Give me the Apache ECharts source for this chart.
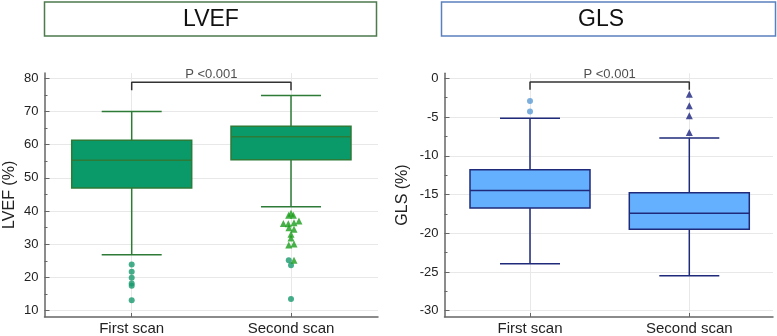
<!DOCTYPE html>
<html>
<head>
<meta charset="utf-8">
<title>LVEF and GLS</title>
<script src="https://cdn.jsdelivr.net/npm/echarts@6/dist/echarts.min.js"></script>
<style>
    html, body {margin: 0; padding: 0; background: #fff;}
    #main {width: 777px; height: 336px;}
</style>
</head>
<body>
<div id="main"></div>
<script>
    'use strict';

    var scans = ['First scan', 'Second scan'];

    // min, Q1, median, Q3, max  (one row per scan)
    var lvefBoxes = [
        [26.0, 46.4, 54.9, 61.0, 69.8],
        [40.7, 55.1, 62.1, 65.3, 74.7]
    ];
    var glsBoxes = [
        [-24.3, -17.0, -14.7, -12.0, -5.25],
        [-25.9, -19.8, -17.7, -15.0, -7.84]
    ];

    // outliers: [scan index + small jitter, value]
    var lvefFarOut = [
        [0, 23.0], [0, 20.8], [0, 19.0], [0, 17.2], [0, 16.5], [0, 12.1],
        [0.986, 24.3], [1, 22.8], [1, 12.5]
    ];
    var lvefOut = [
        [1, 38.7], [0.985, 38.1], [1.015, 38.1], [0.952, 35.6], [0.983, 35.5],
        [1.019, 35.8], [1.05, 36.3], [0.987, 34.3], [1.019, 33.8], [1, 32.3],
        [1, 31.1], [0.986, 29.0], [1.019, 29.3], [1.019, 24.3]
    ];
    var glsFarOut = [[0, -2.97], [0, -4.35]];
    var glsOut = [[1, -2.1], [1, -3.6], [1, -4.9], [1, -7.1]];

    var lvefTicks = [10, 20, 30, 40, 50, 60, 70, 80];
    var lvefMinor = [15, 25, 35, 45, 55, 65, 75];
    var glsTicks = [-30, -25, -20, -15, -10, -5, 0];
    var glsMinor = [-27.5, -22.5, -17.5, -12.5, -7.5, -2.5];

    // significance bracket: [foot, top, text]
    var lvefBracket = [76.3, 78.8, 81.3];
    var glsBracket = [-1.5, -0.48, 0.55];
    var pText = 'P <0.001';

    var FONT = "'Liberation Sans', Arial, sans-serif";
    var BOX_W = 120, CAP_W = 60;
    var AXIS_C = '#666', GRID_C = '#e8e8e8';

    var grids = [], xAxes = [], yAxes = [], series = [];

    function lineStyle(c) {
        return {stroke: c, lineWidth: 1.5, fill: null};
    }

    function boxRenderer(fill, stroke) {
        return function (params, api) {
            var i = api.value(0);
            var lo = api.coord([i, api.value(1)]);
            var q1 = api.coord([i, api.value(2)]);
            var md = api.coord([i, api.value(3)]);
            var q3 = api.coord([i, api.value(4)]);
            var hi = api.coord([i, api.value(5)]);
            var x = lo[0], hb = BOX_W / 2, hc = CAP_W / 2;
            return {
                type: 'group',
                children: [
                    {type: 'line', shape: {x1: x, y1: hi[1], x2: x, y2: q3[1]}, style: lineStyle(stroke)},
                    {type: 'line', shape: {x1: x, y1: q1[1], x2: x, y2: lo[1]}, style: lineStyle(stroke)},
                    {type: 'line', shape: {x1: x - hc, y1: hi[1], x2: x + hc, y2: hi[1]}, style: lineStyle(stroke)},
                    {type: 'line', shape: {x1: x - hc, y1: lo[1], x2: x + hc, y2: lo[1]}, style: lineStyle(stroke)},
                    {type: 'rect', shape: {x: x - hb, y: q3[1], width: BOX_W, height: q1[1] - q3[1]},
                        style: {fill: fill, stroke: stroke, lineWidth: 1.5}},
                    {type: 'line', shape: {x1: x - hb, y1: md[1], x2: x + hb, y2: md[1]}, style: lineStyle(stroke)}
                ]
            };
        };
    }

    // p = {frame, data, min, max, ticks, minor, name, nameGap, boxes, farOut, out, bracket, colors}
    function addPanel(p) {
        var gf = grids.length;
        grids.push(p.frame);
        grids.push(p.data);
        var gd = gf + 1;

        // frame: axis lines, y labels, horizontal grid
        xAxes.push({
            type: 'value', gridIndex: gf, min: 0, max: 1,
            axisLine: {show: true, onZero: false, lineStyle: {color: AXIS_C, width: 1.5}},
            axisTick: {show: false}, axisLabel: {show: false}, splitLine: {show: false}
        });
        yAxes.push({
            type: 'value', gridIndex: gf, position: 'left', min: p.min, max: p.max,
            name: p.name, nameLocation: 'middle', nameGap: p.nameGap,
            nameTextStyle: {fontFamily: FONT, fontSize: 16, color: '#222'},
            axisLine: {show: true, onZero: false, lineStyle: {color: AXIS_C, width: 1.5}},
            axisTick: {show: true, inside: true, length: 5, customValues: p.ticks, lineStyle: {color: AXIS_C}},
            axisLabel: {customValues: p.ticks, fontFamily: FONT, fontSize: 13, color: '#222', margin: 6},
            splitLine: {show: true, lineStyle: {color: GRID_C, width: 1}}
        });
        yAxes.push({
            type: 'value', gridIndex: gf, position: 'left', min: p.min, max: p.max,
            axisLine: {show: false},
            axisTick: {show: true, inside: true, length: 3, customValues: p.minor, lineStyle: {color: AXIS_C}},
            axisLabel: {show: false}, splitLine: {show: false}
        });

        // data grid: category points at its two edges
        var xCat = xAxes.length;
        xAxes.push({
            type: 'category', gridIndex: gd, data: scans, boundaryGap: false,
            axisLine: {show: false, onZero: false},
            axisTick: {show: true, length: 4, lineStyle: {color: AXIS_C}},
            axisLabel: {fontFamily: FONT, fontSize: 15, color: '#222', margin: 8},
            splitLine: {show: true, lineStyle: {color: GRID_C, width: 1}}
        });
        var xVal = xAxes.length;
        xAxes.push({type: 'value', gridIndex: gd, min: 0, max: 1, show: false});
        var yData = yAxes.length;
        yAxes.push({type: 'value', gridIndex: gd, min: p.min, max: p.max, show: false});

        series.push({
            type: 'custom', xAxisIndex: xCat, yAxisIndex: yData,
            renderItem: boxRenderer(p.colors.fill, p.colors.stroke),
            encode: {x: 0, y: [1, 2, 3, 4, 5]},
            data: p.boxes.map(function (b, i) { return [i].concat(b); }),
            z: 2
        });
        series.push({
            type: 'scatter', xAxisIndex: xVal, yAxisIndex: yData, clip: false,
            symbol: 'circle', symbolSize: 6,
            itemStyle: {color: p.colors.far},
            data: p.farOut, z: 3
        });
        series.push({
            type: 'scatter', xAxisIndex: xVal, yAxisIndex: yData, clip: false,
            symbol: 'triangle', symbolSize: p.colors.triSize,
            itemStyle: {color: p.colors.out},
            data: p.out, z: 3
        });
        series.push({
            type: 'line', xAxisIndex: xVal, yAxisIndex: yData, clip: false,
            symbol: 'none', silent: true,
            lineStyle: {color: '#333', width: 1.5},
            data: [[0, p.bracket[0]], [0, p.bracket[1]], [1, p.bracket[1]], [1, p.bracket[0]]],
            z: 3
        });
        series.push({
            type: 'scatter', xAxisIndex: xVal, yAxisIndex: yData, clip: false,
            symbolSize: 0, silent: true,
            label: {
                show: true, position: 'inside', formatter: pText,
                fontFamily: FONT, fontSize: 13, color: '#222'
            },
            data: [[0.5, p.bracket[2]]], z: 4
        });
    }

    addPanel({
        frame: {left: 44.5, top: 73, width: 333.5, height: 243.7},
        data: {left: 131.7, top: 73, width: 159.3, height: 243.7},
        min: 8.19, max: 81.6, ticks: lvefTicks, minor: lvefMinor,
        name: 'LVEF (%)', nameGap: 27,
        boxes: lvefBoxes, farOut: lvefFarOut, out: lvefOut, bracket: lvefBracket,
        colors: {fill: '#0a9a6a', stroke: '#2d7b37', far: '#17996d', out: '#1c9e1c', triSize: 7}
    });
    addPanel({
        frame: {left: 444.5, top: 73.3, width: 328.5, height: 243.4},
        data: {left: 530, top: 73.3, width: 159.3, height: 243.4},
        min: -30.77, max: 0.65, ticks: glsTicks, minor: glsMinor,
        name: 'GLS (%)', nameGap: 34,
        boxes: glsBoxes, farOut: glsFarOut, out: glsOut, bracket: glsBracket,
        colors: {fill: '#64b0ff', stroke: '#1f2a7a', far: '#5b9bd5', out: '#1a237e', triSize: 7}
    });

    var chart = echarts.init(document.getElementById('main'), null, {renderer: 'canvas'});
    chart.setOption({
        animation: false,
        backgroundColor: '#fff',
        grid: grids,
        xAxis: xAxes,
        yAxis: yAxes,
        series: series,
        graphic: [
            {type: 'rect', shape: {x: 44.5, y: 2, width: 332, height: 34},
                style: {fill: '#fff', stroke: '#4e7a4e', lineWidth: 1.5}},
            {type: 'text', x: 211, y: 20,
                style: {text: 'LVEF', fontFamily: FONT, fontSize: 23, fill: '#111', align: 'center', verticalAlign: 'middle'}},
            {type: 'rect', shape: {x: 441.5, y: 2, width: 334, height: 34},
                style: {fill: '#fff', stroke: '#5a80bd', lineWidth: 1.5}},
            {type: 'text', x: 601, y: 20,
                style: {text: 'GLS', fontFamily: FONT, fontSize: 23, fill: '#111', align: 'center', verticalAlign: 'middle'}}
        ]
    });
</script>
</body>
</html>
